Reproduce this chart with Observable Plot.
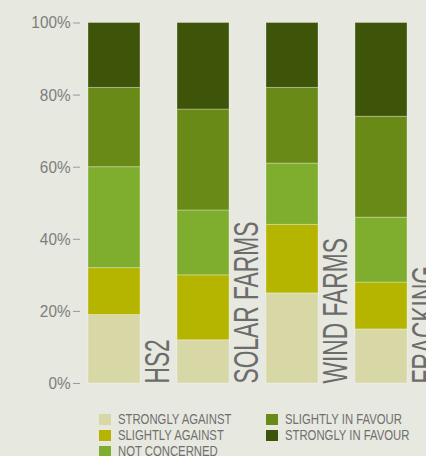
<!DOCTYPE html>
<html>
<head>
<meta charset="utf-8">
<script src="https://cdn.jsdelivr.net/npm/d3@7"></script>
<script src="https://cdn.jsdelivr.net/npm/@observablehq/plot@0.6"></script>
<style>
  html, body { margin: 0; padding: 0; background: #e7e8e0; overflow: hidden; }
  #wrap { position: relative; width: 426px; height: 456px; }
  #legend { position: absolute; left: 99px; top: 411px; display: grid;
    grid-template-columns: 167px 160px; grid-template-rows: 16px 16px 16px; grid-auto-flow: column;
    font-family: "Liberation Sans", Arial, sans-serif; font-size: 14.5px; color: #6f6f6f; }
  .item { display: flex; align-items: center; height: 16px; white-space: nowrap; }
  .sw { width: 12px; height: 11px; margin-right: 7px; flex: none; }
  .lbl { display: inline-block; transform: scaleX(0.78); transform-origin: left center; line-height: 16px; }
</style>
</head>
<body>
<div id="wrap"><div id="chart"></div><div id="legend"></div></div>
<script>
const categories = ["HS2", "SOLAR FARMS", "WIND FARMS", "FRACKING"];
const responses = ["STRONGLY AGAINST", "SLIGHTLY AGAINST", "NOT CONCERNED", "SLIGHTLY IN FAVOUR", "STRONGLY IN FAVOUR"];
const stronglyAgainst  = [19, 12, 25, 15];
const slightlyAgainst  = [13, 18, 19, 13];
const notConcerned     = [28, 18, 17, 18];
const slightlyInFavour = [22, 28, 21, 28];
const stronglyInFavour = [18, 24, 18, 26];
const yTicks = [0, 20, 40, 60, 80, 100];

const palette = ["#d8d8a6", "#b5b500", "#7fae2e", "#6a8a18", "#3e5409"];
const series = [stronglyAgainst, slightlyAgainst, notConcerned, slightlyInFavour, stronglyInFavour];

const rows = [];
categories.forEach((c, i) => {
  responses.forEach((r, j) => rows.push({category: c, response: r, value: series[j][i]}));
});

const plot = Plot.plot({
  width: 426,
  height: 400,
  marginLeft: 80,
  style: {background: "transparent", fontFamily: "'Liberation Sans', Arial, sans-serif"},
  x: {domain: categories, range: [87, 408], paddingInner: 0.42, paddingOuter: 0, axis: null},
  y: {domain: [0, 100], range: [383, 22.5], axis: null},
  color: {domain: responses, range: palette},
  marks: [
    Plot.barY(rows, {x: "category", y: "value", fill: "response", order: responses,
      stroke: "white", strokeOpacity: 0.3, strokeWidth: 1}),
    Plot.axisY({ticks: yTicks, tickFormat: d => d + "%", tickSize: 7, tickPadding: 3, label: null,
      fontSize: 17, color: "#7d7d7d", stroke: "#9a9a9a", className: "ytl"}),
    Plot.text(categories, {x: d => d, y: () => 0, text: d => d, rotate: -90,
      textAnchor: "start", lineAnchor: "bottom", dx: 54, fontSize: 35, fill: "#6c6c6c", className: "catlbl"})
  ]
});
document.getElementById("chart").appendChild(plot);

function squeeze(nodes, f) {
  nodes.forEach(t => {
    const L = t.getComputedTextLength();
    t.setAttribute("textLength", L * f);
    t.setAttribute("lengthAdjust", "spacingAndGlyphs");
  });
}
squeeze(plot.querySelectorAll('.catlbl text'), 0.65);
squeeze(plot.querySelectorAll('.ytl text'), 0.9);

const legend = document.getElementById("legend");
responses.forEach((r, j) => {
  const it = document.createElement("div");
  it.className = "item";
  it.innerHTML = `<span class="sw" style="background:${palette[j]}"></span><span class="lbl">${r}</span>`;
  legend.appendChild(it);
});
</script>
</body>
</html>
